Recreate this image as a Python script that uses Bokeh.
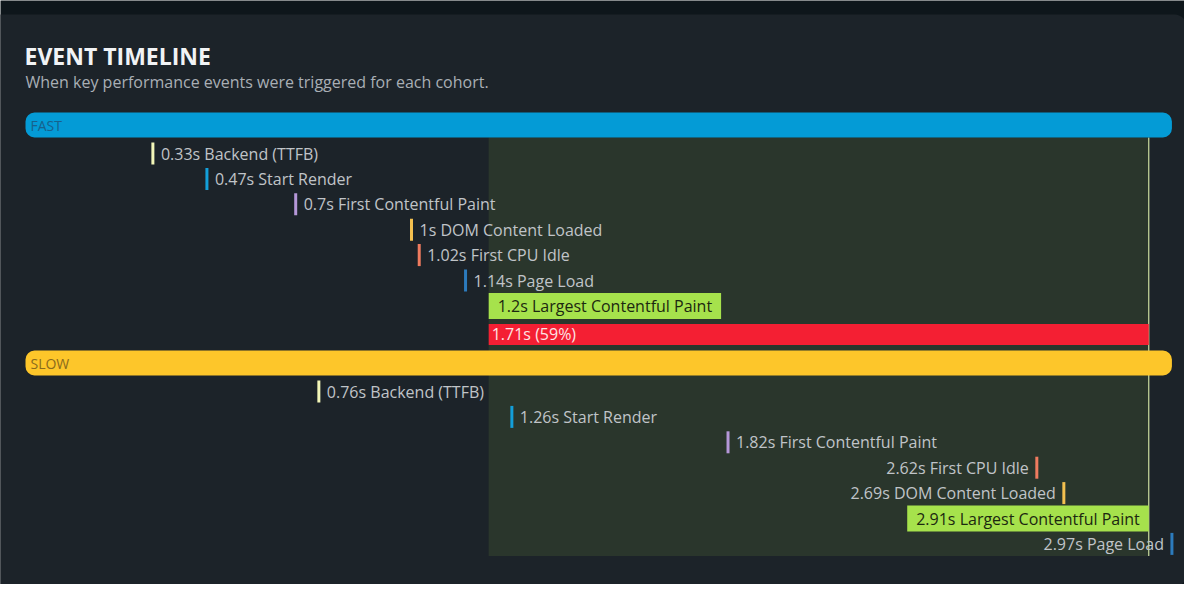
from bokeh.plotting import figure
from bokeh.models import Range1d, ColumnDataSource
from bokeh.core.properties import value
from bokeh.embed import file_html
from bokeh.resources import INLINE

# ---------------- data ----------------
title = "EVENT TIMELINE"
subtitle = "When key performance events were triggered for each cohort."
cohorts = ["FAST", "SLOW"]
cohort_colors = ["#049bd6", "#fdc62a"]
cohort_text_colors = ["#17618c", "#8a6a1c"]
events = ["Backend (TTFB)", "Start Render", "First Contentful Paint",
          "DOM Content Loaded", "First CPU Idle", "Page Load",
          "Largest Contentful Paint"]
event_colors = ["#f2f6b8", "#139fd9", "#b597d8", "#f3c04f", "#ef7b5f",
                "#2c7bbd", "#a6e24c"]
fast_times = [0.33, 0.47, 0.7, 1.0, 1.02, 1.14, 1.2]
slow_times = [0.76, 1.26, 1.82, 2.69, 2.62, 2.97, 2.91]
highlight = "Largest Contentful Paint"

# ---------------- layout ----------------
W, H = 1184, 584
PX = 386.0          # pixels per second
ORIGIN = 25         # plot pixel of t = 0
FONT = "Open Sans"
ROW = 25.4

def xd(px):
    return (px - ORIGIN) / PX

p = figure(width=W, height=H, output_backend="svg", toolbar_location=None,
           x_range=Range1d(xd(0), xd(W)),
           y_range=Range1d(H, 0), min_border=0,
           background_fill_color="#0e161b", border_fill_color="#0e161b",
           outline_line_color=None)
p.axis.visible = False
p.grid.visible = False

# panel
p.quad(left=[xd(-20)], right=[xd(1186)], top=[14], bottom=[586],
       fill_color="#1c2329", line_color=None, border_radius=12)

tmax = max(fast_times + slow_times)
all_times = [fast_times, slow_times]
hi = events.index(highlight)
t_fast_hi = fast_times[hi]
t_slow_hi = slow_times[hi]

bar_tops = [112, 350]
BAR_H = 25

# highlight region (between cohorts' LCP)
last_row_y = bar_tops[1] + 41 + 6 * ROW
p.quad(left=[t_fast_hi], right=[t_slow_hi], top=[bar_tops[0] + BAR_H],
       bottom=[last_row_y + 12], fill_color="#a6e24c", fill_alpha=0.1,
       line_color=None)
p.segment(x0=[t_slow_hi], x1=[t_slow_hi], y0=[bar_tops[0] + BAR_H],
          y1=[last_row_y + 12], line_color="#cfe0a2", line_width=1.2)

# title
p.text(x=[0], y=[55], text=[title], text_font=value(FONT),
       text_font_style="bold", text_font_size="23px", text_color="#f1f3f5",
       text_baseline="middle", x_offset=-1)
p.text(x=[0], y=[81], text=[subtitle], text_font=value(FONT),
       text_font_size="16px", text_color="#a9afb5", text_baseline="middle")

for ci, (name, times) in enumerate(zip(cohorts, all_times)):
    top = bar_tops[ci]
    p.quad(left=[0], right=[tmax], top=[top], bottom=[top + BAR_H],
           fill_color=cohort_colors[ci], line_color=None, border_radius=9)
    p.text(x=[0], y=[top + BAR_H / 2], text=[name], text_font=value(FONT),
           text_font_size="14px", text_color=cohort_text_colors[ci],
           text_baseline="middle", x_offset=5)

    order = sorted(range(len(events)), key=lambda i: times[i])
    mk = dict(x=[], y=[], c=[])
    lb = dict(x=[], y=[], t=[], a=[], o=[])
    hl = dict(x=[], y=[], t=[], a=[])
    for r, i in enumerate(order):
        t = times[i]
        y = top + 41 + r * ROW
        label = f"{t:g}s {events[i]}"
        est_w = len(label) * 8.6 + 10
        right = (t * PX + est_w) < tmax * PX
        if events[i] == highlight:
            hl["x"].append(t); hl["y"].append(y); hl["t"].append(label)
            hl["a"].append("left" if right else "right")
        else:
            mk["x"].append(t); mk["y"].append(y); mk["c"].append(event_colors[i])
            lb["x"].append(t); lb["y"].append(y); lb["t"].append(label)
            lb["a"].append("left" if right else "right")
            lb["o"].append(8 if right else -8)
    p.rect(x="x", y="y", width=3, height=22, width_units="screen",
           height_units="screen", fill_color="c", line_color=None,
           source=ColumnDataSource(mk))
    p.text(x="x", y="y", text="t", text_align="a", x_offset="o",
           text_baseline="middle", text_font=value(FONT),
           text_font_size="16px", text_color="#c0c4c8",
           source=ColumnDataSource(lb))
    p.text(x="x", y="y", text="t", text_align="a",
           text_baseline="middle", text_font=value(FONT),
           text_font_size="16px", text_color="#1c2810",
           background_fill_color="#a6e24c", padding=(9, 2),
           source=ColumnDataSource(hl))

# difference bar
diff = t_slow_hi - t_fast_hi
pct = round(100 * diff / t_slow_hi)
red_y = bar_tops[0] + 41 + 6 * ROW + 28.5
p.quad(left=[t_fast_hi], right=[t_slow_hi], top=[red_y - 10.5],
       bottom=[red_y + 10.5], fill_color="#f41f33", line_color=None)
p.text(x=[t_fast_hi], y=[red_y], text=[f"{diff:.2f}s ({pct}%)"],
       text_font=value(FONT), text_font_size="16px", text_color="#fde4e4",
       text_baseline="middle", x_offset=3)

open("out.html", "w").write(file_html(p, INLINE))
